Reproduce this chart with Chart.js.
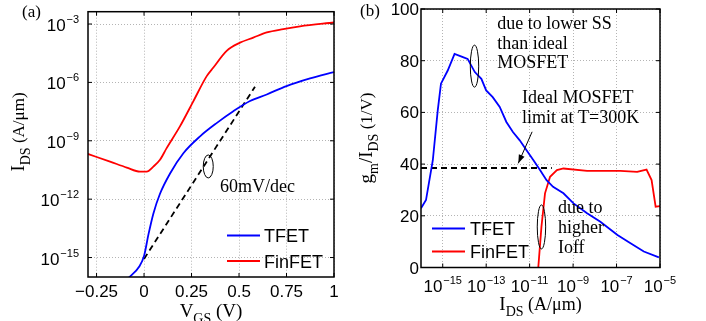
<!DOCTYPE html>
<html>
<head>
<meta charset="utf-8">
<script src="https://cdn.jsdelivr.net/npm/chart.js@4.4.0/dist/chart.umd.min.js"></script>
<style>
  html, body { margin: 0; padding: 0; background: #fff; }
  #wrap { position: relative; width: 706px; height: 321px; overflow: hidden; }
  canvas { position: absolute; top: 0; }
  #chartA { left: 0; }
  #chartB { left: 353px; }
</style>
</head>
<body>
<div id="wrap">
  <canvas id="chartA" width="353" height="321"></canvas>
  <canvas id="chartB" width="353" height="321"></canvas>
</div>
<script>
/* ───────── DATA: panel (a) I_DS vs V_GS ───────── */
const vgsTfet = [-0.082, -0.025, 0, 0.023, 0.049, 0.084, 0.137, 0.207, 0.295, 0.382, 0.47, 0.558, 0.646, 0.75, 0.874, 1.0];
const idsTfet = [8.9e-17, 3.5e-16, 1.2e-15, 1.5e-14, 1.8e-13, 1.9e-12, 2.1e-11, 2.3e-10, 1.7e-9, 8.1e-9, 3.3e-8, 1.1e-7, 2.4e-7, 6.5e-7, 1.6e-6, 3.4e-6];

const vgsFinfet = [-0.296, -0.179, -0.091, -0.021, 0.014, 0.049, 0.084, 0.119, 0.189, 0.26, 0.33, 0.365, 0.435, 0.505, 0.575, 0.646, 0.733, 0.821, 1.0];
const idsFinfet = [2.1e-10, 8.5e-11, 4.2e-11, 2.6e-11, 2.6e-11, 4.7e-11, 1.05e-10, 4.2e-10, 5.5e-9, 1.1e-7, 2.1e-6, 5.8e-6, 4.2e-5, 1.1e-4, 2.0e-4, 3.7e-4, 5.5e-4, 7.6e-4, 1.2e-3];

const vgsSlope = [0, 0.584];
const idsSlope = [8.5e-16, 6.0e-7];

const vgsTicks = [-0.25, 0, 0.25, 0.5, 0.75, 1];
const idsTicksA = [1e-15, 1e-12, 1e-9, 1e-6, 1e-3];

/* ───────── DATA: panel (b) gm/IDS vs IDS ───────── */
const idsB_Tfet = [1.0e-16, 1.7e-16, 3.5e-16, 5.9e-16, 8.3e-16, 1.7e-15, 3.5e-15, 8.5e-15, 1.4e-14, 3.0e-14, 6.0e-14, 1.0e-13, 2.0e-13, 4.2e-13, 8.5e-13, 1.7e-12, 3.5e-12, 7.2e-12, 1.5e-11, 3.0e-11, 6.0e-11, 1.2e-10, 3.6e-10, 1.05e-9, 4.4e-9, 1.8e-8, 1.1e-7, 4.4e-7, 1.8e-6, 8.9e-6];
const gmTfet = [22.9, 26.1, 41.5, 60.8, 71.1, 76.2, 82.6, 81.4, 80.7, 75.6, 73.0, 68.5, 65.9, 62.1, 56.3, 52.4, 49.2, 45.4, 41.5, 37.7, 33.8, 31.2, 28.7, 24.8, 21.0, 17.7, 12.6, 9.4, 6.2, 3.9];

const idsB_Finfet = [2.5e-11, 3.5e-11, 5.1e-11, 8.7e-11, 1.8e-10, 3.6e-10, 4.4e-9, 1.5e-7, 8.9e-7, 2.4e-6, 4.1e-6, 6.3e-6, 1.15e-5];
const gmFinfet = [0, 15.8, 28.7, 35.1, 37.7, 38.3, 37.4, 37.4, 37.0, 37.9, 33.8, 23.5, 23.8];

const idsIdeal = [1e-16, 1.05e-10];
const gmIdeal = [38.5, 38.5];

const idsTicksB = [1e-15, 1e-13, 1e-11, 1e-9, 1e-7, 1e-5];
const gmTicks = [0, 20, 40, 60, 80, 100];

/* ───────── HELPERS ───────── */
const SANS = "'Liberation Sans', Arial, sans-serif";
const SERIF = "'Liberation Serif', 'Times New Roman', serif";
const pts = (xs, ys) => xs.map((x, i) => ({ x, y: ys[i] }));

// parts: [text, sizePx, family, dy]
function drawRich(ctx, parts, x, y, align, angle) {
  ctx.save();
  ctx.translate(x, y);
  if (angle) ctx.rotate(angle);
  ctx.textAlign = "left";
  ctx.textBaseline = "alphabetic";
  ctx.fillStyle = "#000";
  let total = 0;
  const widths = parts.map(p => {
    ctx.font = p[1] + "px " + p[2];
    const w = ctx.measureText(p[0]).width;
    total += w;
    return w;
  });
  let cx = align === "center" ? -total / 2 : align === "right" ? -total : 0;
  parts.forEach((p, i) => {
    ctx.font = p[1] + "px " + p[2];
    ctx.fillText(p[0], cx, p[3] || 0);
    cx += widths[i];
  });
  ctx.restore();
}

const powLabel = v => {
  const e = Math.round(Math.log10(v));
  return [["10", 17, SANS, 0], [" ", 3, SANS, 0], [(e < 0 ? "\u2212" : "") + Math.abs(e), 11, SANS, -8]];
};
const numLabel = v => (v < 0 ? "\u2212" + Math.abs(v) : String(v));

function drawFrame(ctx, chart) {
  const a = chart.chartArea;
  ctx.save();
  ctx.strokeStyle = "#000";
  ctx.lineWidth = 1.5;
  ctx.strokeRect(a.left, a.top, a.right - a.left, a.bottom - a.top);
  ctx.lineWidth = 1;
  const tl = 4;
  chart.scales.x.ticks.forEach(t => {
    const px = chart.scales.x.getPixelForValue(t.value);
    ctx.beginPath();
    ctx.moveTo(px, a.bottom); ctx.lineTo(px, a.bottom - tl);
    ctx.moveTo(px, a.top); ctx.lineTo(px, a.top + tl);
    ctx.stroke();
  });
  chart.scales.y.ticks.forEach(t => {
    const py = chart.scales.y.getPixelForValue(t.value);
    ctx.beginPath();
    ctx.moveTo(a.left, py); ctx.lineTo(a.left + tl, py);
    ctx.moveTo(a.right, py); ctx.lineTo(a.right - tl, py);
    ctx.stroke();
  });
  ctx.restore();
}

function drawLegend(ctx, chart, x0, x1, ys, tx) {
  const items = chart.data.datasets.filter(d => d.label);
  ctx.save();
  items.forEach((d, i) => {
    ctx.strokeStyle = d.borderColor;
    ctx.lineWidth = 2;
    ctx.beginPath();
    ctx.moveTo(x0, ys[i]); ctx.lineTo(x1, ys[i]);
    ctx.stroke();
    drawRich(ctx, [[d.label, 18, SANS, 0]], tx, ys[i] + 6.5, "left");
  });
  ctx.restore();
}

function drawEllipse(ctx, chart, xv, yv, rx, ry) {
  const px = chart.scales.x.getPixelForValue(xv);
  const py = chart.scales.y.getPixelForValue(yv);
  ctx.save();
  ctx.strokeStyle = "#000";
  ctx.lineWidth = 1;
  ctx.beginPath();
  ctx.ellipse(px, py, rx, ry, 0, 0, Math.PI * 2);
  ctx.stroke();
  ctx.restore();
}

const gridOpts = { color: "#b4b4b4", lineWidth: 1, drawTicks: false };
const borderOpts = { display: false, dash: [1, 2] };

/* ───────── CHART (a) ───────── */
const decoA = {
  id: "decoA",
  afterDraw(chart) {
    const { ctx } = chart;
    const xs = chart.scales.x, ys = chart.scales.y;
    drawFrame(ctx, chart);
    xs.ticks.forEach(t => {
      drawRich(ctx, [[numLabel(t.value), 17, SANS, 0]], xs.getPixelForValue(t.value), 296.5, "center");
    });
    ys.ticks.forEach(t => {
      drawRich(ctx, powLabel(t.value), 79, ys.getPixelForValue(t.value) + 7, "right");
    });
    drawRich(ctx, [["V", 19, SERIF, 0], ["GS", 14, SERIF, 6], [" (V)", 19, SERIF, 0]],
      (chart.chartArea.left + chart.chartArea.right) / 2, 316.5, "center");
    drawRich(ctx, [["I", 19, SERIF, 0], ["DS", 14, SERIF, 6], [" (A/\u03bcm)", 17, SERIF, 0]],
      24, 132, "center", -Math.PI / 2);
    drawRich(ctx, [["(a)", 17, SERIF, 0]], 22, 17, "left");
    drawEllipse(ctx, chart, 0.338, 4.8e-11, 5, 11.5);
    drawRich(ctx, [["60mV/dec", 18, SERIF, 0]], xs.getPixelForValue(0.4), ys.getPixelForValue(4.6e-12) + 6, "left");
    drawLegend(ctx, chart, 227, 260, [235.5, 261], 264);
  }
};

new Chart(document.getElementById("chartA").getContext("2d"), {
  type: "line",
  data: {
    datasets: [
      { label: "TFET", data: pts(vgsTfet, idsTfet), borderColor: "#0000ff", borderWidth: 1.8, pointRadius: 0, cubicInterpolationMode: "monotone" },
      { label: "FinFET", data: pts(vgsFinfet, idsFinfet), borderColor: "#ff0000", borderWidth: 1.8, pointRadius: 0, cubicInterpolationMode: "monotone" },
      { data: pts(vgsSlope, idsSlope), borderColor: "#000", borderWidth: 1.8, borderDash: [6, 4], pointRadius: 0 }
    ]
  },
  options: {
    responsive: false,
    animation: false,
    layout: { padding: { top: 11.7, right: 19, left: 0, bottom: 0 } },
    plugins: { legend: { display: false }, tooltip: { enabled: false } },
    scales: {
      x: {
        type: "linear", min: -0.295, max: 1,
        grid: gridOpts, border: borderOpts, ticks: { display: false },
        afterBuildTicks: s => { s.ticks = vgsTicks.map(v => ({ value: v })); },
        afterFit: s => { s.height = 44; }
      },
      y: {
        type: "logarithmic", min: 1e-16, max: 4.3e-3,
        grid: gridOpts, border: borderOpts, ticks: { display: false },
        afterBuildTicks: s => { s.ticks = idsTicksA.map(v => ({ value: v })); },
        afterFit: s => { s.width = 88; }
      }
    }
  },
  plugins: [decoA]
});

/* ───────── CHART (b) ───────── */
const notesB = [
  { lines: ["due to lower SS", "than ideal", "MOSFET"], x: 3.2e-13, y: [94.5, 87.0, 79.6] },
  { lines: ["Ideal MOSFET", "limit at T=300K"], x: 4.5e-12, y: [66.1, 58.1] },
  { lines: ["due to", "higher", "Ioff"], x: 2.0e-10, y: [23.5, 15.8, 8.0] }
];

const decoB = {
  id: "decoB",
  afterDraw(chart) {
    const { ctx } = chart;
    const xs = chart.scales.x, ys = chart.scales.y;
    drawFrame(ctx, chart);
    xs.ticks.forEach(t => {
      drawRich(ctx, powLabel(t.value), xs.getPixelForValue(t.value), 292, "center");
    });
    ys.ticks.forEach(t => {
      drawRich(ctx, [[String(t.value), 17, SANS, 0]], 66, ys.getPixelForValue(t.value) + 6, "right");
    });
    drawRich(ctx, [["I", 19, SERIF, 0], ["DS", 14, SERIF, 6], [" (A/\u03bcm)", 18, SERIF, 0]],
      (chart.chartArea.left + chart.chartArea.right) / 2, 310, "center");
    drawRich(ctx, [["g", 19, SERIF, 0], ["m", 14, SERIF, 6], ["/I", 19, SERIF, 0], ["DS", 14, SERIF, 6], [" (1/V)", 17, SERIF, 0]],
      18.5, 138, "center", -Math.PI / 2);
    drawRich(ctx, [["(b)", 17, SERIF, 0]], 7, 16, "left");
    notesB.forEach(n => {
      n.lines.forEach((l, i) => {
        drawRich(ctx, [[l, 18, SERIF, 0]], xs.getPixelForValue(n.x), ys.getPixelForValue(n.y[i]) + 6, "left");
      });
    });
    drawEllipse(ctx, chart, 2.9e-14, 77.9, 4.2, 21);
    drawEllipse(ctx, chart, 3.5e-11, 15.7, 4.2, 22);
    // arrow to ideal limit
    const ax0 = xs.getPixelForValue(1.3e-11), ay0 = ys.getPixelForValue(52.5);
    const ax1 = xs.getPixelForValue(3.0e-12), ay1 = ys.getPixelForValue(40.3);
    const ang = Math.atan2(ay1 - ay0, ax1 - ax0);
    ctx.save();
    ctx.strokeStyle = "#000"; ctx.fillStyle = "#000"; ctx.lineWidth = 1;
    ctx.beginPath(); ctx.moveTo(ax0, ay0); ctx.lineTo(ax1, ay1); ctx.stroke();
    ctx.beginPath();
    ctx.moveTo(ax1, ay1);
    ctx.lineTo(ax1 - 9 * Math.cos(ang - 0.35), ay1 - 9 * Math.sin(ang - 0.35));
    ctx.lineTo(ax1 - 9 * Math.cos(ang + 0.35), ay1 - 9 * Math.sin(ang + 0.35));
    ctx.closePath(); ctx.fill();
    ctx.restore();
    drawLegend(ctx, chart, 432 - 353, 465 - 353, [228.5, 251.5], 470 - 353);
  }
};

new Chart(document.getElementById("chartB").getContext("2d"), {
  type: "line",
  data: {
    datasets: [
      { label: "TFET", data: pts(idsB_Tfet, gmTfet), borderColor: "#0000ff", borderWidth: 1.8, pointRadius: 0 },
      { label: "FinFET", data: pts(idsB_Finfet, gmFinfet), borderColor: "#ff0000", borderWidth: 1.8, pointRadius: 0 },
      { data: pts(idsIdeal, gmIdeal), borderColor: "#000", borderWidth: 1.8, borderDash: [6, 4], pointRadius: 0 }
    ]
  },
  options: {
    responsive: false,
    animation: false,
    layout: { padding: { top: 9, right: 46, left: 0, bottom: 0 } },
    plugins: { legend: { display: false }, tooltip: { enabled: false } },
    scales: {
      x: {
        type: "logarithmic", min: 1e-16, max: 1e-5,
        grid: gridOpts, border: borderOpts, ticks: { display: false },
        afterBuildTicks: s => { s.ticks = idsTicksB.map(v => ({ value: v })); },
        afterFit: s => { s.height = 53.5; }
      },
      y: {
        type: "linear", min: 0, max: 100,
        grid: gridOpts, border: borderOpts, ticks: { display: false },
        afterBuildTicks: s => { s.ticks = gmTicks.map(v => ({ value: v })); },
        afterFit: s => { s.width = 68; }
      }
    }
  },
  plugins: [decoB]
});
</script>
</body>
</html>
